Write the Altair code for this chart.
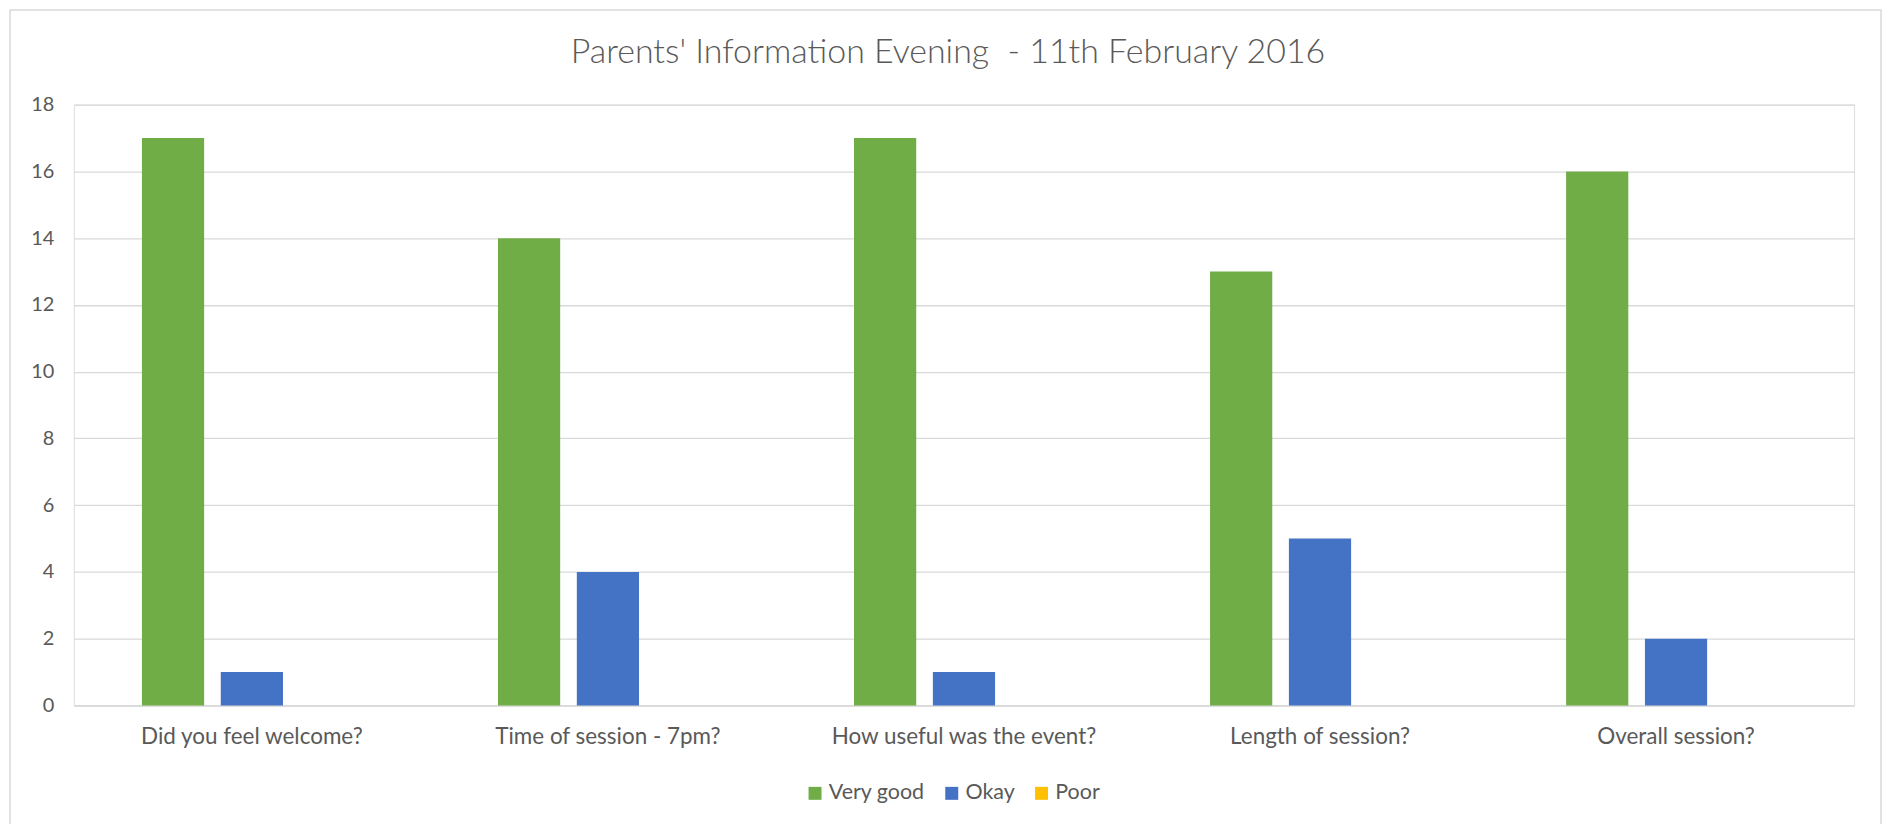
import altair as alt
import pandas as pd

categories = ["Did you feel welcome?", "Time of session - 7pm?", "How useful was the event?",
              "Length of session?", "Overall session?"]
series = ["Very good", "Okay", "Poor"]
very_good = [17, 14, 17, 13, 16]
okay = [1, 4, 1, 5, 2]
poor = [0, 0, 0, 0, 0]
colors = ["#70AD47", "#4472C4", "#FFC000"]
y_ticks = [0, 2, 4, 6, 8, 10, 12, 14, 16, 18]

rows = []
for s, vals in zip(series, [very_good, okay, poor]):
    for c, v in zip(categories, vals):
        rows.append({"Question": c, "Rating": s, "Count": v})
df = pd.DataFrame(rows)

FONT = "Lato"
TXT = "#595959"
W, H = 1784, 602

bars = alt.Chart(df).mark_bar().encode(
    x=alt.X("Question:N", sort=categories, title=None,
            scale=alt.Scale(paddingInner=0.3824, paddingOuter=0.1912),
            axis=alt.Axis(labelAngle=0, labelFontSize=22.5, labelColor=TXT, labelFont=FONT,
                          labelPadding=20, labelLimit=0, ticks=False, domain=True,
                          domainColor="#D9D9D9", domainWidth=1.5, grid=False)),
    xOffset=alt.XOffset("Rating:N", sort=series,
                        scale=alt.Scale(paddingInner=0.211, paddingOuter=0)),
    y=alt.Y("Count:Q", title=None,
            scale=alt.Scale(domain=[0, 18], nice=False),
            axis=alt.Axis(values=y_ticks, labelFontSize=20, labelColor=TXT, labelFont=FONT,
                          labelPadding=20, ticks=False, domain=False, grid=True,
                          gridColor="#D9D9D9", gridWidth=1.3)),
    color=alt.Color("Rating:N", sort=series,
                    scale=alt.Scale(domain=series, range=colors),
                    legend=alt.Legend(title=None, orient="none", direction="horizontal",
                                      legendX=732, legendY=679, symbolType="square",
                                      symbolSize=169, symbolStrokeWidth=0,
                                      labelFontSize=21.5, labelColor=TXT, labelFont=FONT,
                                      columnPadding=16, labelOffset=3, padding=0,
                                      labelLimit=0)),
)

border = alt.Chart(alt.Data(values=[{"a": 1}])).mark_rect(
    fill=None, stroke="#D9D9D9", strokeWidth=1.5
).encode(x=alt.value(-64), x2=alt.value(W + 27), y=alt.value(-95), y2=alt.value(H + 128))

chart = alt.layer(border, bars).properties(
    width=W, height=H,
    autosize=alt.AutoSizeParams(type="none"),
    padding={"left": 66, "top": 96, "right": 30, "bottom": 132},
    title=alt.TitleParams("Parents' Information Evening \u00a0- 11th February 2016",
                          anchor="middle", frame="group", dx=-16, offset=-60.5,
                          fontSize=34, font=FONT, fontWeight=300, color=TXT),
).configure_view(stroke=None).configure(background="white")

chart.save("out.html", embed_options={"renderer": "svg", "actions": False})
